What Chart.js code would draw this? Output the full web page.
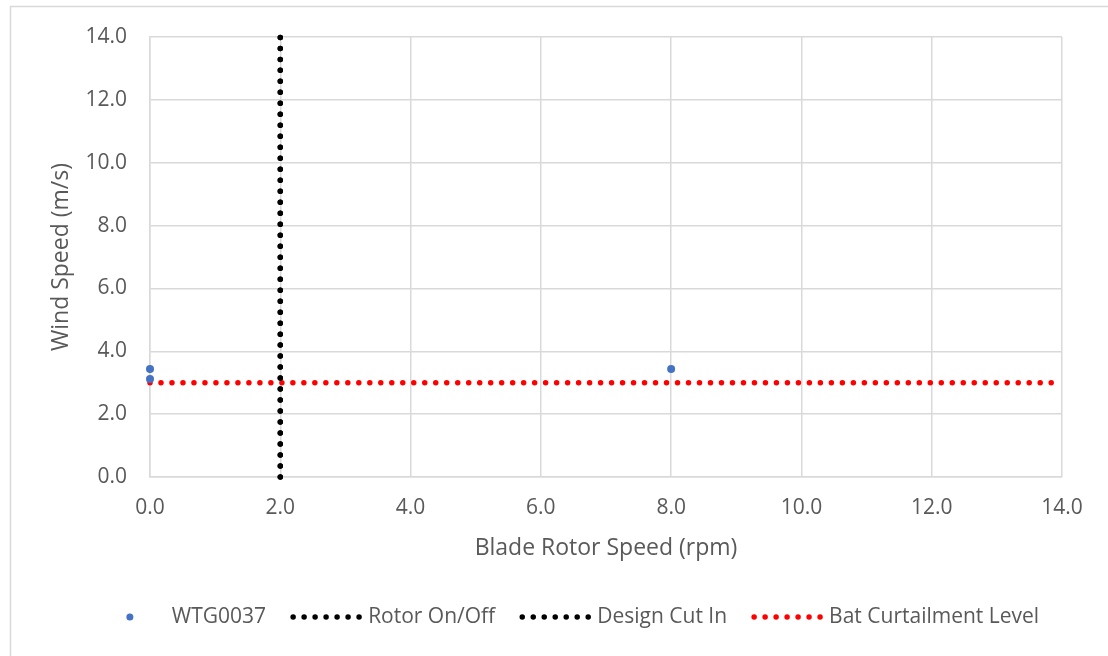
<!DOCTYPE html>
<html>
<head>
<meta charset="utf-8">
<script src="https://cdn.jsdelivr.net/npm/chart.js@4.4.0/dist/chart.umd.min.js"></script>
<style>
    html, body { margin: 0; padding: 0; background: #fff; }
    #wrap { width: 1108px; height: 656px; }
</style>
</head>
<body>
<div id="wrap"><canvas id="windChart" width="1108" height="656"></canvas></div>
<script>
// series
var seriesNames = ['WTG0037', 'Rotor On/Off', 'Design Cut In', 'Bat Curtailment Level'];
var wtgRotor = [0.0, 0.0, 8.0];
var wtgWind = [3.44, 3.12, 3.44];
var rotorOnOffX = [2.0, 2.0];
var rotorOnOffY = [0.0, 14.0];
var cutInX = [2.0, 2.0];
var cutInY = [0.0, 14.0];
var batX = [0.0, 14.0];
var batY = [3.0, 3.0];
// axis ticks
var tickValues = [0, 2, 4, 6, 8, 10, 12, 14];
var tickLabels = ['0.0', '2.0', '4.0', '6.0', '8.0', '10.0', '12.0', '14.0'];

var textColor = '#595959';
var gridColor = '#d9d9d9';
var fontName = "'Open Sans', 'Liberation Sans', sans-serif";

function toPoints(xs, ys) {
    return xs.map(function (x, i) { return { x: x, y: ys[i] }; });
}

function tickLabel(v) {
    var i = tickValues.indexOf(v);
    return i >= 0 ? tickLabels[i] : '';
}

var dottedLine = function (name, xs, ys, color) {
    return {
        label: name,
        data: toPoints(xs, ys),
        showLine: true,
        borderColor: color,
        backgroundColor: color,
        borderWidth: 5.5,
        borderDash: [0, 10.99],
        borderCapStyle: 'round',
        pointRadius: 0,
        pointHoverRadius: 0,
        clip: false
    };
};

// frame round the whole chart
var framePlugin = {
    id: 'frame',
    beforeDraw: function (chart) {
        var ctx = chart.ctx;
        ctx.save();
        ctx.fillStyle = '#fff';
        ctx.fillRect(0, 0, chart.width, chart.height);
        ctx.strokeStyle = gridColor;
        ctx.lineWidth = 1.5;
        ctx.strokeRect(10.5, 6.5, 1120, 670);
        ctx.restore();
    }
};

// Excel style legend at the bottom
var legendPlugin = {
    id: 'bottomLegend',
    afterDraw: function (chart) {
        var ctx = chart.ctx;
        var markW = 66, gapText = 9, gapItem = 27, cy = 617;
        ctx.save();
        ctx.font = '21px ' + fontName;
        ctx.textBaseline = 'middle';
        var total = 0;
        chart.data.datasets.forEach(function (ds, i) {
            total += markW + gapText + ctx.measureText(ds.label).width;
            if (i < chart.data.datasets.length - 1) total += gapItem;
        });
        var x = 568 - total / 2;
        chart.data.datasets.forEach(function (ds) {
            if (ds.showLine) {
                ctx.save();
                ctx.strokeStyle = ds.borderColor;
                ctx.lineWidth = ds.borderWidth;
                ctx.lineCap = 'round';
                ctx.setLineDash(ds.borderDash);
                ctx.beginPath();
                ctx.moveTo(x, cy);
                ctx.lineTo(x + markW, cy);
                ctx.stroke();
                ctx.restore();
            } else {
                ctx.fillStyle = ds.backgroundColor;
                ctx.beginPath();
                ctx.arc(x + markW / 2, cy, 3.5, 0, Math.PI * 2);
                ctx.fill();
            }
            x += markW + gapText;
            ctx.fillStyle = textColor;
            ctx.fillText(ds.label, x, cy);
            x += ctx.measureText(ds.label).width + gapItem;
        });
        ctx.restore();
    }
};

var ctx = document.getElementById('windChart').getContext('2d');
var chart = new Chart(ctx, {
    type: 'scatter',
    data: {
        datasets: [
            {
                label: seriesNames[0],
                data: toPoints(wtgRotor, wtgWind),
                backgroundColor: '#4472c4',
                borderColor: '#4472c4',
                pointRadius: 4,
                pointBorderWidth: 0,
                clip: false
            },
            dottedLine(seriesNames[1], rotorOnOffX, rotorOnOffY, '#000000'),
            dottedLine(seriesNames[2], cutInX, cutInY, '#000000'),
            dottedLine(seriesNames[3], batX, batY, '#ff0000')
        ]
    },
    options: {
        responsive: false,
        animation: false,
        devicePixelRatio: 1,
        layout: { padding: { left: 0, top: 37, right: 46, bottom: 79 } },
        plugins: {
            legend: { display: false },
            tooltip: { enabled: false }
        },
        scales: {
            x: {
                min: 0, max: 14,
                afterFit: function (s) { s.height = 100; },
                afterBuildTicks: function (s) { s.ticks = tickValues.map(function (v) { return { value: v }; }); },
                grid: { color: gridColor, drawTicks: false, lineWidth: 1.5 },
                border: { color: gridColor, width: 1.5 },
                ticks: {
                    padding: 18, color: textColor, maxRotation: 0,
                    font: { family: fontName, size: 21 },
                    callback: function (v) { return tickLabel(v); }
                },
                title: {
                    display: true, text: 'Blade Rotor Speed (rpm)', color: textColor,
                    font: { family: fontName, size: 23 },
                    padding: { top: 0, bottom: 15 }
                }
            },
            y: {
                min: 0, max: 14,
                afterFit: function (s) { s.width = 150; },
                afterBuildTicks: function (s) { s.ticks = tickValues.map(function (v) { return { value: v }; }); },
                grid: { color: gridColor, drawTicks: false, lineWidth: 1.5 },
                border: { color: gridColor, width: 1.5 },
                ticks: {
                    padding: 23, color: textColor,
                    font: { family: fontName, size: 21 },
                    callback: function (v) { return tickLabel(v); }
                },
                title: {
                    display: true, text: 'Wind Speed (m/s)', color: textColor,
                    font: { family: fontName, size: 23 },
                    padding: { top: 48, bottom: 0 }
                }
            }
        }
    },
    plugins: [framePlugin, legendPlugin]
});
</script>
</body>
</html>
